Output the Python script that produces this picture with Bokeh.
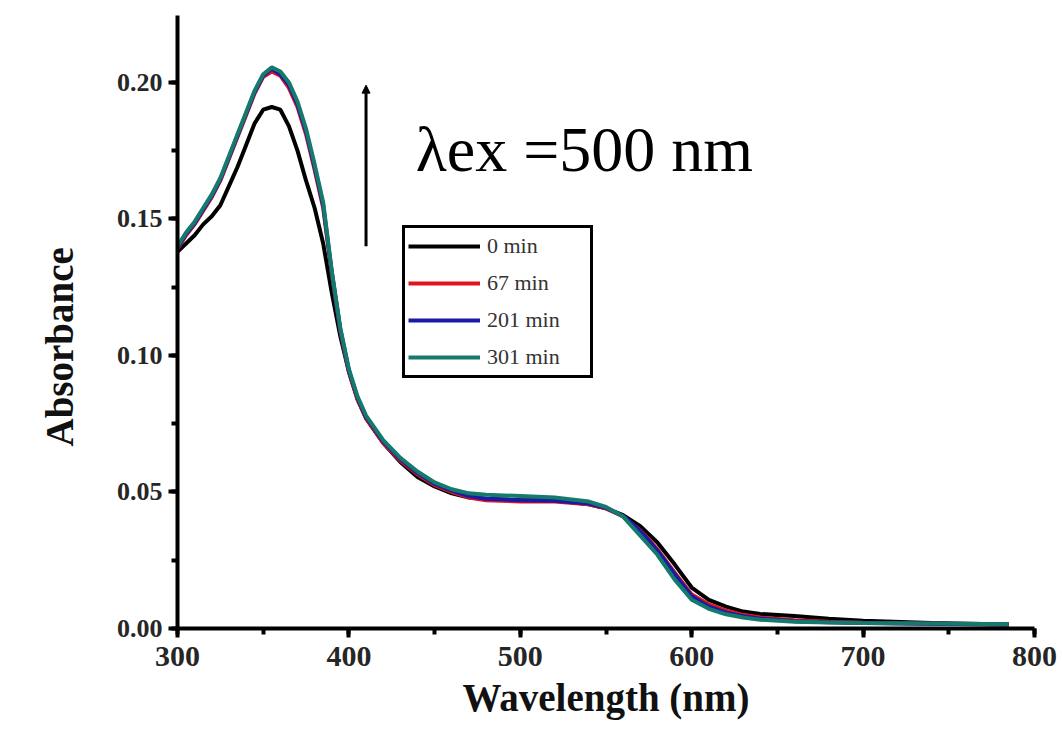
from bokeh.plotting import figure
from bokeh.models import (Range1d, SingleIntervalTicker, Legend, LegendItem, Arrow,
                          NormalHead, Label, PrintfTickFormatter, Title)
from bokeh.embed import file_html
from bokeh.resources import INLINE

# ---------------- data ----------------
wavelength = [300, 305, 310, 315, 320, 325, 330, 335, 340, 345, 350, 355, 360, 365, 370, 375,
              380, 385, 390, 395, 400, 405, 410, 420, 430, 440, 450, 460, 470, 480, 500, 520,
              540, 550, 560, 570, 580, 590, 600, 610, 620, 630, 640, 660, 680, 700, 740, 785]

abs_0min = [0.138, 0.141, 0.144, 0.148, 0.151, 0.155, 0.162, 0.169, 0.177, 0.185, 0.190, 0.191,
            0.190, 0.184, 0.175, 0.164, 0.154, 0.141, 0.123, 0.107, 0.094, 0.084, 0.077, 0.068,
            0.061, 0.0555, 0.052, 0.0495, 0.048, 0.0475, 0.047, 0.047, 0.0455, 0.044, 0.0415,
            0.0375, 0.0315, 0.0235, 0.0150, 0.0105, 0.0080, 0.0062, 0.0053, 0.0046, 0.0036,
            0.0028, 0.0020, 0.0015]

abs_67min = [0.139, 0.144, 0.148, 0.153, 0.158, 0.164, 0.172, 0.180, 0.188, 0.196, 0.202, 0.204,
             0.2025, 0.198, 0.191, 0.181, 0.168, 0.154, 0.130, 0.109, 0.094, 0.084, 0.077, 0.068,
             0.0615, 0.0565, 0.0525, 0.050, 0.048, 0.047, 0.0465, 0.0465, 0.0455, 0.044, 0.041,
             0.036, 0.029, 0.0205, 0.0125, 0.0088, 0.0065, 0.0050, 0.0040, 0.0030, 0.0025,
             0.0021, 0.0017, 0.0014]

abs_201min = [0.1395, 0.1445, 0.1485, 0.1535, 0.1585, 0.1645, 0.1725, 0.1805, 0.1885, 0.1965,
              0.2025, 0.205, 0.203, 0.199, 0.192, 0.182, 0.169, 0.155, 0.1305, 0.1095, 0.0945,
              0.0845, 0.0775, 0.0685, 0.062, 0.057, 0.053, 0.0505, 0.0485, 0.0475, 0.047, 0.0468,
              0.0458, 0.0442, 0.0412, 0.0358, 0.0285, 0.0200, 0.0118, 0.0080, 0.0058, 0.0045,
              0.0036, 0.0027, 0.0023, 0.0020, 0.0017, 0.0015]

abs_301min = [0.140, 0.145, 0.149, 0.154, 0.159, 0.165, 0.173, 0.181, 0.189, 0.197, 0.203, 0.2055,
              0.204, 0.200, 0.193, 0.183, 0.170, 0.156, 0.131, 0.110, 0.095, 0.085, 0.078, 0.069,
              0.0625, 0.0575, 0.0535, 0.051, 0.0495, 0.049, 0.0485, 0.048, 0.0465, 0.0445, 0.041,
              0.034, 0.027, 0.018, 0.0105, 0.0072, 0.0052, 0.0040, 0.0032, 0.0025, 0.0022,
              0.0020, 0.0018, 0.0016]

series_labels = ["0 min", "67 min", "201 min", "301 min"]
series_values = [abs_0min, abs_67min, abs_201min, abs_301min]
series_colors = ["#000000", "#e0141c", "#1a1aa6", "#137a6c"]

annotation_text = "λex =500 nm"
annotation_pos = (439, 0.1756)
arrow_x = 410
arrow_y = (0.140, 0.199)

# ---------------- figure ----------------
p = figure(frame_width=857, frame_height=613,
           min_border_left=177, min_border_right=28, min_border_top=15, min_border_bottom=116,
           x_range=Range1d(300, 800), y_range=Range1d(0, 0.2245),
           output_backend="svg", toolbar_location=None,
           background_fill_color="white", border_fill_color="white")
p.outline_line_color = None
p.grid.visible = False

serif = "Liberation Serif"

renderers = []
for vals, col in zip(series_values, series_colors):
    r = p.line(wavelength, vals, line_color=col, line_width=4)
    renderers.append(r)

# axes
for ax in (p.xaxis[0], p.yaxis[0]):
    ax.axis_line_width = 4
    ax.axis_line_color = "black"
    ax.major_tick_line_width = 4
    ax.major_tick_in = 0
    ax.major_tick_out = 9
    ax.minor_tick_line_width = 4
    ax.minor_tick_in = 0
    ax.minor_tick_out = 6
    ax.major_label_text_font = serif
    ax.major_label_text_font_style = "bold"
    ax.major_label_text_color = "#262626"
    ax.axis_label_text_font = serif
    ax.axis_label_text_font_style = "bold"
    ax.axis_label_text_font_size = "39px"
    ax.axis_label_text_color = "#111111"

p.xaxis[0].major_label_text_font_size = "30px"
p.yaxis[0].major_label_text_font_size = "26px"
p.xaxis[0].ticker = SingleIntervalTicker(interval=100, num_minor_ticks=2)
p.yaxis[0].ticker = SingleIntervalTicker(interval=0.05, num_minor_ticks=2)
p.yaxis[0].formatter = PrintfTickFormatter(format="%.2f")
p.xaxis[0].axis_label = "Wavelength (nm)"
p.xaxis[0].major_label_standoff = 9
p.xaxis[0].axis_label_standoff = 7
p.yaxis[0].major_label_standoff = 6

# y-axis title as a side title (allows shifting it below the frame centre, as in the original)
p.add_layout(Title(text="Absorbance", align="left", offset=182, standoff=62,
                   vertical_align="top",
                   text_font=serif, text_font_style="bold", text_font_size="39px",
                   text_color="#111111"), "left")

# legend
legend = Legend(items=[LegendItem(label=l, renderers=[r]) for l, r in zip(series_labels, renderers)],
                location=(225, 250), orientation="vertical",
                border_line_color="black", border_line_width=3, border_line_alpha=1,
                background_fill_color="white", background_fill_alpha=1,
                padding=3, spacing=7, margin=0,
                glyph_width=72, glyph_height=30, label_height=30, label_standoff=7,
                label_width=100,
                label_text_font=serif, label_text_font_size="22px", label_text_color="#333333")
p.add_layout(legend)

# arrow
p.add_layout(Arrow(end=NormalHead(size=8, fill_color="black", line_color="black"),
                   x_start=arrow_x, y_start=arrow_y[0], x_end=arrow_x, y_end=arrow_y[1],
                   line_width=3, line_color="black"))

# annotation text
p.add_layout(Label(x=annotation_pos[0], y=annotation_pos[1], text=annotation_text,
                   text_font=serif, text_font_size="64px", text_color="black",
                   text_baseline="alphabetic"))

open("out.html", "w").write(file_html(p, INLINE))
